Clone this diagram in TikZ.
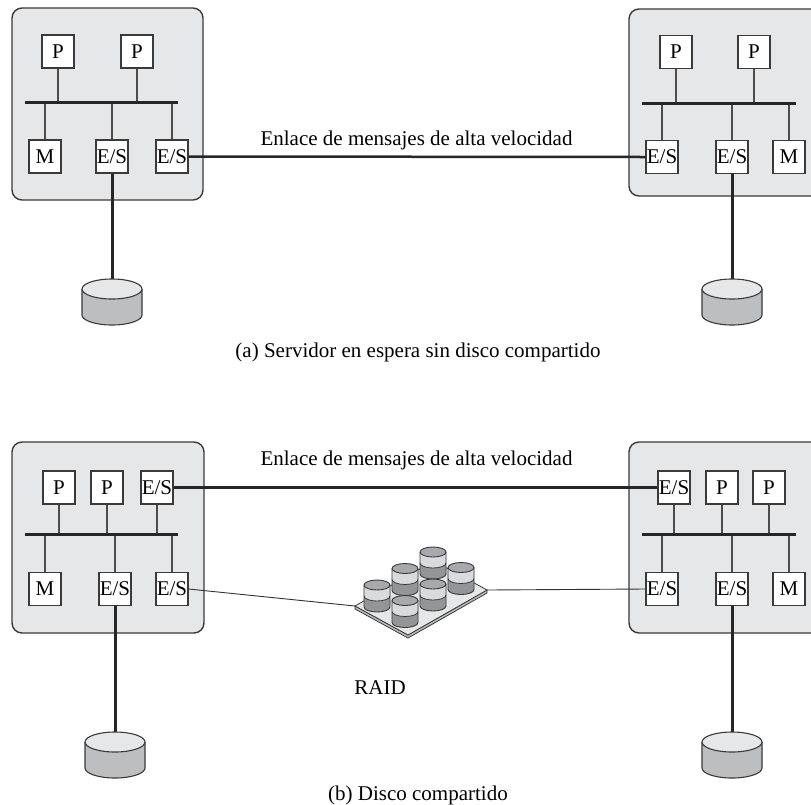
\documentclass[tikz,border=0pt]{standalone}
\usepackage{fontspec}
\setmainfont{Liberation Serif}
\definecolor{chassisfill}{HTML}{E6E7E8}
\definecolor{linedark}{HTML}{3A3A3A}
\definecolor{disktop}{HTML}{E6E7E8}
\definecolor{diskbody}{HTML}{BCBEC0}
\definecolor{raidtop}{HTML}{A7A9AC}
\definecolor{raidband}{HTML}{D9DADB}
\definecolor{raidlow}{HTML}{939598}
\definecolor{platetop}{HTML}{E6E7E8}
\definecolor{plateside}{HTML}{BCBEC0}
\begin{document}
\begin{tikzpicture}[x=1pt,y=-1pt,
  font=\fontsize{21}{25}\selectfont,
  unit/.style={draw=linedark, line width=1.1pt, fill=white,
    minimum width=32pt, minimum height=33pt, inner sep=0pt},
  chassis/.style={draw=linedark, line width=1.4pt, fill=chassisfill, rounded corners=10pt},
  bus/.style={line width=3pt, draw=black!85},
  stem/.style={line width=1.1pt, draw=black!70},
  link/.style={line width=2.5pt, draw=black!85},
  disklink/.style={line width=3pt, draw=black!85},
  raidlink/.style={line width=0.9pt, draw=black!80},
  label/.style={inner sep=0pt, anchor=base},
  harddisk/.pic={
    \fill[diskbody] (-30,0) -- (-30,26) arc[start angle=180, end angle=0, x radius=30, y radius=10] -- (30,0) -- cycle;
    \draw[linedark, line width=1.1pt] (-30,0) -- (-30,26) arc[start angle=180, end angle=0, x radius=30, y radius=10] -- (30,0);
    \draw[linedark, line width=1.1pt, fill=disktop] (0,0) ellipse[x radius=30, y radius=10];
  },
  raiddisk/.pic={
    \fill[raidlow] (-13,0) -- (-13,22) arc[start angle=180, end angle=0, x radius=13, y radius=5] -- (13,0) -- cycle;
    \fill[raidband] (-13,0) -- (-13,11) arc[start angle=180, end angle=0, x radius=13, y radius=5] -- (13,0) -- cycle;
    \draw[linedark, line width=0.8pt] (-13,11) arc[start angle=180, end angle=0, x radius=13, y radius=5];
    \draw[linedark, line width=0.9pt] (-13,0) -- (-13,22) arc[start angle=180, end angle=0, x radius=13, y radius=5] -- (13,0);
    \draw[linedark, line width=0.9pt, fill=raidtop] (0,0) ellipse[x radius=13, y radius=5];
  }
]
\clip (0,0) rectangle (811,804);
\fill[white] (0,0) rectangle (811,804);

% ---------------- (a) standby server, no shared disk ----------------
% left node
\draw[chassis] (12,8) rectangle (203,200);
\coordinate (aLbusL) at (25,102);
\coordinate (aLbusR) at (178,102);
\node[unit] (aLP1) at (58,51.5) {P};
\node[unit] (aLP2) at (137,51.5) {P};
\node[unit] (aLM)  at (45,156.5) {M};
\node[unit] (aLE1) at (112,156.5) {E/S};
\node[unit] (aLE2) at (172,156.5) {E/S};
\draw[stem] (aLP1.south) -- (aLP1.south |- aLbusL);
\draw[stem] (aLP2.south) -- (aLP2.south |- aLbusL);
\draw[stem] (aLM.north)  -- (aLM.north |- aLbusL);
\draw[stem] (aLE1.north) -- (aLE1.north |- aLbusL);
\draw[stem] (aLE2.north) -- (aLE2.north |- aLbusL);
\draw[bus] (aLbusL) -- (aLbusR);

% right node
\draw[chassis] (629,9) rectangle (840,196);
\coordinate (aRbusL) at (642,103);
\coordinate (aRbusR) at (796,103);
\node[unit] (aRP1) at (676,52) {P};
\node[unit] (aRP2) at (754,52) {P};
\node[unit] (aRE1) at (662,157) {E/S};
\node[unit] (aRE2) at (732,157) {E/S};
\node[unit] (aRM)  at (789,157) {M};
\draw[stem] (aRP1.south) -- (aRP1.south |- aRbusL);
\draw[stem] (aRP2.south) -- (aRP2.south |- aRbusL);
\draw[stem] (aRE1.north) -- (aRE1.north |- aRbusL);
\draw[stem] (aRE2.north) -- (aRE2.north |- aRbusL);
\draw[stem] (aRM.north)  -- (aRM.north |- aRbusL);
\draw[bus] (aRbusL) -- (aRbusR);

% high-speed message link
\draw[link] (aLE2.east) -- (aRE1.west);
\node[label] (aLinkTxt) at (416.5,145) {Enlace de mensajes de alta velocidad};

% local disks
\coordinate (aLdisk) at (112,279);
\coordinate (aRdisk) at (732,279);
\draw[disklink] (aLE1.south) -- (aLdisk);
\draw[disklink] (aRE2.south) -- (aRdisk);
\pic at (112,289) {harddisk};
\pic at (732,289) {harddisk};

\node[label] (capA) at (418,357) {(a) Servidor en espera sin disco compartido};

% ---------------- (b) shared disk ----------------
% left node
\draw[chassis] (12,442) rectangle (204,633);
\coordinate (bLbusL) at (25,534);
\coordinate (bLbusR) at (178,534);
\node[unit] (bLP1) at (59,487.5) {P};
\node[unit] (bLP2) at (107,487.5) {P};
\node[unit] (bLE0) at (157,487.5) {E/S};
\node[unit] (bLM)  at (45,589) {M};
\node[unit] (bLE1) at (115,589) {E/S};
\node[unit] (bLE2) at (172,589) {E/S};
\draw[stem] (bLP1.south) -- (bLP1.south |- bLbusL);
\draw[stem] (bLP2.south) -- (bLP2.south |- bLbusL);
\draw[stem] (bLE0.south) -- (bLE0.south |- bLbusL);
\draw[stem] (bLM.north)  -- (bLM.north |- bLbusL);
\draw[stem] (bLE1.north) -- (bLE1.north |- bLbusL);
\draw[stem] (bLE2.north) -- (bLE2.north |- bLbusL);
\draw[bus] (bLbusL) -- (bLbusR);

% right node
\draw[chassis] (629,442) rectangle (840,633);
\coordinate (bRbusL) at (642,534);
\coordinate (bRbusR) at (796,534);
\node[unit] (bRE0) at (674,487.5) {E/S};
\node[unit] (bRP1) at (722,487.5) {P};
\node[unit] (bRP2) at (769,487.5) {P};
\node[unit] (bRE1) at (662,589) {E/S};
\node[unit] (bRE2) at (732,589) {E/S};
\node[unit] (bRM)  at (789,589) {M};
\draw[stem] (bRE0.south) -- (bRE0.south |- bRbusL);
\draw[stem] (bRP1.south) -- (bRP1.south |- bRbusL);
\draw[stem] (bRP2.south) -- (bRP2.south |- bRbusL);
\draw[stem] (bRE1.north) -- (bRE1.north |- bRbusL);
\draw[stem] (bRE2.north) -- (bRE2.north |- bRbusL);
\draw[stem] (bRM.north)  -- (bRM.north |- bRbusL);
\draw[bus] (bRbusL) -- (bRbusR);

% high-speed message link
\draw[link] (bLE0.east) -- (bRE0.west);
\node[label] (bLinkTxt) at (416.5,465) {Enlace de mensajes de alta velocidad};

% shared RAID array: plate corners
\coordinate (raidL) at (355,606);
\coordinate (raidF) at (408,635);
\coordinate (raidR) at (487,590);
\coordinate (raidB) at (434,561);
\draw[raidlink] (bLE2.east) -- (raidL);
\draw[raidlink] (raidR) -- (bRE1.west);
\filldraw[fill=plateside, draw=linedark, line width=0.8pt]
  (raidL) -- (raidF) -- (raidR) -- ([yshift=-3pt]raidR) -- ([yshift=-3pt]raidF) -- ([yshift=-3pt]raidL) -- cycle;
\filldraw[fill=platetop, draw=linedark, line width=0.8pt]
  (raidL) -- (raidF) -- (raidR) -- (raidB) -- cycle;
\pic at (433,552) {raiddisk};
\pic at (461,567.5) {raiddisk};
\pic at (405,568.5) {raiddisk};
\pic at (433,584) {raiddisk};
\pic at (377,585) {raiddisk};
\pic at (405,600.5) {raiddisk};
\node[label] (raidTxt) at (380,694) {RAID};

% local disks
\coordinate (bLdisk) at (115,732);
\coordinate (bRdisk) at (732,732);
\draw[disklink] (bLE1.south) -- (bLdisk);
\draw[disklink] (bRE2.south) -- (bRdisk);
\pic at (115,742) {harddisk};
\pic at (732,742) {harddisk};

\node[label] (capB) at (418,800) {(b) Disco compartido};
\end{tikzpicture}
\end{document}
